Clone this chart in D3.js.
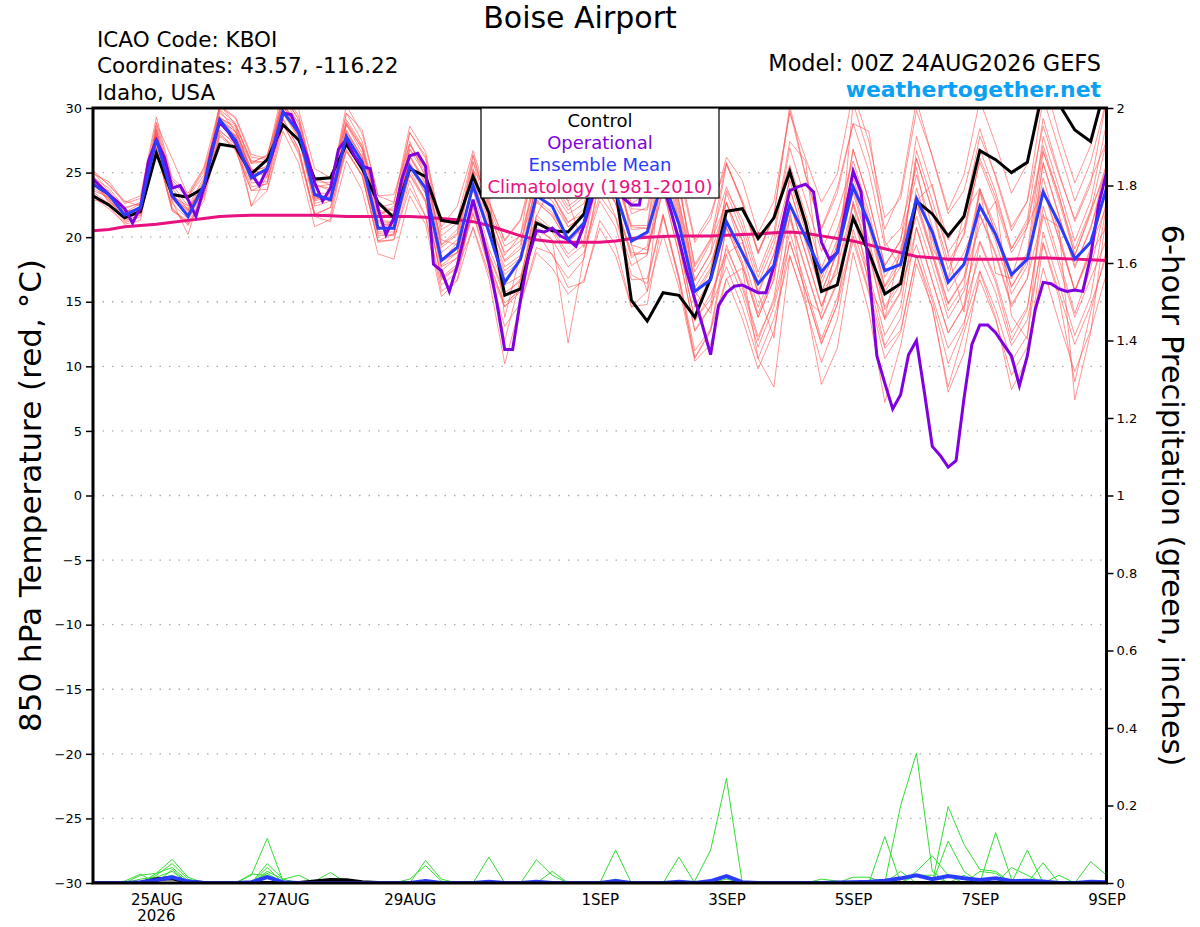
<!DOCTYPE html>
<html>
<head>
<meta charset="utf-8">
<script src="https://cdn.jsdelivr.net/npm/d3@7"></script>
<style>
  body { margin: 0; background: #fff; }
  svg text { font-family: "DejaVu Sans", "Liberation Sans", sans-serif; }
</style>
</head>
<body>
<div id="chart"></div>
<script>
// ---- data (6-hourly unless noted) ----
const startTime = "2026-08-24T00:00:00Z";
const endTime = "2026-09-09T00:00:00Z";
const tickDates = ["2026-08-25T00:00:00Z","2026-08-27T00:00:00Z","2026-08-29T00:00:00Z","2026-09-01T00:00:00Z",
                   "2026-09-03T00:00:00Z","2026-09-05T00:00:00Z","2026-09-07T00:00:00Z","2026-09-09T00:00:00Z"];
const tickLabels = ["25AUG","27AUG","29AUG","1SEP","3SEP","5SEP","7SEP","9SEP"];
const tempTicks = [-30,-25,-20,-15,-10,-5,0,5,10,15,20,25,30];
const precipTicks = [0,0.2,0.4,0.6,0.8,1,1.2,1.4,1.6,1.8,2];

const control = [23.2,22.5,21.5,22.0, 26.5,23.3,23.1,23.8, 27.2,27.0,24.9,26.0, 28.7,27.5,24.5,24.6,
  27.2,25.3,22.7,21.5, 25.3,24.7,21.3,21.1, 24.7,21.9,15.5,16.0, 21.1,20.5,20.4,21.8,
  26.5,23.8,15.1,13.5, 15.7,15.5,13.8,16.8, 22.0,22.2,19.9,21.5, 25.1,21.1,15.8,16.3,
  21.5,18.8,15.6,16.4, 22.8,21.8,20.1,21.6, 26.7,26.0,25.0,25.8, 31.5,30.3,28.3,27.4, 32.0];

// operational run is 3-hourly
const operational = [24.5,23.9,23.3,22.8,22.2,21.1,22.3,25.9,27.5,26.2,
  23.8,24.0,22.9,21.6,23.8,26.8,28.9,28.2,27.3,26.0,
  24.9,24.0,25.3,27.1,29.6,29.5,28.1,26.3,24.2,22.8,
  23.8,26.8,27.6,26.3,25.5,25.3,22.2,20.2,21.5,24.5,
  26.3,26.5,25.5,17.9,17.4,15.8,17.8,20.4,22.9,20.6,
  18.0,14.9,11.3,11.3,15.2,18.5,20.5,20.4,20.7,20.1,
  19.8,19.3,20.9,22.9,25.5,27.0,26.0,23.0,22.5,22.5,
  26.0,27.0,24.0,22.0,19.8,17.3,15.2,13.1,10.9,14.7,
  15.7,16.2,16.3,16.0,15.7,15.7,17.8,20.9,23.6,23.9,
  24.1,23.5,19.6,18.3,18.8,21.9,25.1,23.5,17.3,10.8,
  8.7,6.7,7.8,10.9,12.0,8.0,3.8,3.1,2.2,2.7,
  7.5,11.7,13.2,13.2,12.6,11.7,10.8,8.5,10.8,14.4,
  16.5,16.4,16.0,15.8,15.9,15.8,18.5,22.5,25.0];

const ensMean = [24.1,23.3,21.7,22.3, 27.6,23.2,21.6,24.0, 29.1,27.5,24.6,25.3, 29.7,28.1,23.3,22.9,
  27.8,25.8,20.7,20.7, 25.5,23.8,18.2,19.2, 24.0,20.4,16.5,18.3, 23.2,22.4,19.8,21.1,
  26.0,23.5,19.7,20.4, 24.5,21.0,15.8,16.7, 21.2,18.8,16.4,17.8, 22.5,20.0,17.3,18.8,
  23.9,21.1,17.4,17.9, 23.0,20.4,16.5,17.9, 22.4,20.2,17.1,18.3, 23.5,21.1,18.3,19.6, 23.8];

const climatology = [20.5,20.6,20.8,20.9, 21.0,21.15,21.3,21.45, 21.6,21.65,21.7,21.7, 21.7,21.7,21.7,21.65,
  21.6,21.6,21.6,21.6, 21.6,21.55,21.45,21.35, 21.2,20.9,20.5,20.1, 19.8,19.65,19.6,19.6,
  19.6,19.7,19.9,20.0, 20.05,20.1,20.1,20.1, 20.15,20.2,20.25,20.35, 20.4,20.3,20.1,19.9,
  19.7,19.4,19.1,18.8, 18.5,18.4,18.3,18.3, 18.3,18.3,18.3,18.35, 18.4,18.35,18.3,18.25, 18.2];

// ensemble members, one row per day (00Z,06Z,12Z,18Z)
const member01 = [24.6,23.8,22.3,22.6, 28.3,24.1,22.4,24.6, 29.8,28.2,25.7,26.4, 30.2,28.9,24.6,24.0,
  28.9,27.0,22.0,21.5, 26.8,25.4,19.4,20.6, 25.9,22.6,19.8,21.4, 26.3,25.1,22.8,24.0,
  29.4,27.6,24.5,23.2, 27.8,25.0,19.6,21.4, 26.2,24.4,20.3,22.8, 29.6,26.1,22.7,24.9,
  31.2,27.4,21.5,23.0, 29.8,26.3,22.1,24.8, 30.6,27.2,23.4,25.7, 32.5,28.0,24.2,27.1, 31.8];
const member02 = [23.5,22.6,21.2,21.8, 27.0,22.3,20.9,23.1, 28.1,26.7,23.6,24.2, 28.8,26.4,21.6,21.2,
  25.9,23.6,18.7,18.3, 23.2,21.0,15.4,16.6, 20.8,17.2,13.1,14.9, 19.2,18.7,16.1,16.5,
  21.3,19.4,14.6,15.8, 20.2,16.1,10.4,11.7, 16.8,17.6,10.6,8.4, 18.5,15.0,8.6,11.4,
  18.8,14.2,7.2,11.6, 17.9,14.6,8.0,11.0, 17.3,13.8,8.2,10.6, 19.5,15.3,8.8,14.2, 19.0];
const member03 = [25.0,24.1,22.6,23.0, 28.9,24.4,23.2,25.3, 29.2,28.6,24.8,25.1, 29.6,27.6,22.4,22.8,
  28.7,26.9,22.6,22.0, 27.4,24.6,19.8,19.4, 23.7,19.1,16.3,17.0, 21.6,24.2,22.8,19.2,
  23.2,21.5,17.1,16.4, 21.8,17.0,11.2,12.9, 19.4,16.1,12.0,15.3, 22.6,18.8,14.7,17.9,
  25.4,21.4,16.2,18.6, 26.1,22.0,17.5,20.3, 26.8,23.5,19.1,21.4, 29.2,25.0,21.2,24.1, 30.6];
const member04 = [23.1,22.2,21.1,21.6, 26.8,22.0,21.3,23.7, 29.3,28.1,25.3,24.6, 31.1,29.4,24.3,24.2,
  29.6,27.4,22.3,22.6, 28.1,26.3,20.6,21.3, 26.4,22.1,18.6,20.2, 24.3,23.4,20.8,21.6,
  25.1,23.8,19.4,19.0, 24.2,19.3,13.6,15.2, 19.1,16.4,12.3,15.0, 20.4,16.3,12.1,15.3,
  20.1,15.8,11.4,12.8, 18.6,15.1,10.2,13.1, 19.6,16.5,12.0,14.4, 22.4,18.3,14.1,17.6, 22.8];
const member05 = [24.2,23.0,21.4,21.9, 27.9,23.8,22.1,24.0, 30.2,29.3,26.4,26.1, 31.6,29.8,25.3,24.6,
  28.7,26.5,21.6,22.4, 25.6,23.4,17.7,18.4, 22.6,18.6,15.4,16.8, 20.6,19.8,11.8,18.5,
  24.6,22.6,18.4,19.3, 26.8,22.4,16.6,18.8, 25.6,22.9,18.9,21.7, 29.8,24.7,20.6,23.4,
  28.8,25.1,19.3,20.7, 25.4,19.2,16.8,21.8, 23.8,20.3,16.2,18.1, 24.6,20.3,15.8,19.2, 22.4];
const member06 = [24.8,23.2,21.7,22.3, 28.2,22.6,21.4,24.3, 28.3,27.1,22.4,23.6, 28.2,25.7,20.8,21.4,
  27.3,25.4,20.3,20.1, 26.3,24.2,18.1,19.6, 25.3,21.4,18.2,19.4, 25.6,24.3,22.4,23.3,
  28.6,26.8,22.6,23.4, 27.6,22.8,17.3,19.6, 22.7,18.8,14.6,17.4, 21.4,17.5,13.6,16.4,
  21.6,17.2,12.4,14.6, 22.4,18.6,14.3,16.2, 23.5,20.4,16.1,18.4, 26.6,23.3,18.6,22.0, 27.4];
const member07 = [25.2,24.0,22.8,22.4, 27.6,23.2,22.4,23.6, 28.8,27.6,24.4,25.3, 29.2,26.8,21.7,22.3,
  26.6,24.8,19.6,19.8, 24.4,21.6,16.3,17.3, 22.3,18.2,14.6,15.8, 20.4,18.6,16.8,18.3,
  24.4,21.6,17.8,18.6, 25.6,21.3,14.6,16.8, 23.6,21.4,17.3,20.4, 27.4,25.9,15.8,17.2,
  30.4,26.3,20.6,23.4, 30.6,26.2,21.8,23.6, 28.4,24.6,20.5,22.8, 28.6,24.8,21.4,24.4, 27.4];
const member08 = [23.2,22.4,21.0,21.3, 27.8,23.3,22.2,24.4, 30.3,28.7,25.8,26.3, 30.8,29.2,24.1,23.6,
  29.6,28.3,23.2,22.7, 28.6,26.6,20.8,22.4, 26.7,22.8,19.7,21.3, 25.4,23.6,21.8,22.6,
  26.6,24.6,20.6,20.7, 24.6,19.7,13.5,15.6, 18.6,15.6,11.5,14.6, 19.6,15.8,11.7,14.8,
  19.7,15.6,10.6,12.6, 18.6,14.5,8.4,12.6, 16.7,13.6,9.3,11.5, 17.6,13.4,9.6,12.8, 17.2];
const member09 = [24.0,23.6,22.1,21.8, 28.8,26.1,23.2,25.1, 28.9,27.8,25.2,24.8, 29.1,26.8,21.8,22.3,
  28.3,26.2,20.8,21.2, 27.2,25.3,19.4,20.3, 26.3,22.4,19.3,20.1, 27.2,25.8,23.6,24.7,
  30.6,28.7,24.6,25.2, 30.8,25.6,19.8,21.8, 25.7,22.6,18.7,21.6, 25.6,21.8,17.6,20.6,
  24.6,20.7,15.8,17.7, 21.6,17.8,13.7,15.8, 19.7,16.8,12.6,14.6, 21.6,20.8,7.4,12.6, 21.8];
const member10 = [24.1,22.8,21.9,22.1, 26.9,22.2,21.1,23.2, 29.2,27.9,24.8,25.2, 30.1,28.2,23.2,22.8,
  26.8,24.8,19.7,20.3, 24.8,22.7,16.8,17.7, 21.8,17.6,14.6,16.2, 21.7,20.6,18.7,19.8,
  25.8,23.7,19.6,20.2, 26.7,21.8,15.7,17.6, 22.6,19.7,15.6,18.7, 23.8,19.6,15.7,18.8,
  23.7,19.8,14.6,16.8, 22.8,24.1,18.7,14.2, 22.6,19.7,15.6,17.8, 25.8,21.7,17.6,20.8, 24.6];
const member11 = [23.6,23.1,22.0,22.2, 28.0,23.0,21.8,23.9, 29.0,28.2,25.0,25.5, 31.2,29.0,24.0,23.8,
  30.2,28.0,23.2,23.3, 27.2,25.0,19.2,20.2, 25.2,23.4,13.8,18.7, 22.7,21.7,19.6,20.7,
  24.7,22.6,18.6,18.8, 23.6,18.7,12.7,14.6, 17.7,14.6,10.6,13.7, 18.6,14.7,10.3,13.6,
  20.6,16.7,11.6,13.7, 20.8,16.6,12.6,14.7, 21.7,18.6,14.6,16.8, 25.7,21.6,17.8,20.6, 25.7];
const member12 = [24.2,22.9,21.3,21.7, 28.3,22.8,20.2,24.2, 27.8,26.8,23.6,23.7, 28.7,26.6,21.7,21.8,
  27.8,25.8,20.6,21.1, 25.2,22.8,16.7,17.6, 20.7,16.8,10.2,14.8, 18.8,17.6,15.6,16.7,
  20.7,18.6,14.6,14.8, 21.6,16.7,10.6,12.7, 18.7,19.6,15.7,12.2, 21.7,17.6,13.7,16.6,
  22.6,18.6,13.6,15.7, 20.7,16.6,12.6,14.6, 18.6,15.7,11.6,13.6, 19.6,15.7,11.7,14.7, 18.6];
const member13 = [24.9,24.3,22.7,23.2, 29.3,24.6,23.4,25.4, 30.1,29.2,26.2,26.0, 30.2,28.1,22.9,23.3,
  27.7,25.8,21.2,21.1, 26.3,24.4,18.2,18.8, 24.6,20.7,17.7,18.6, 24.2,23.3,21.2,21.8,
  27.6,25.8,21.8,22.3, 28.7,23.8,17.7,19.8, 25.8,22.7,18.8,21.7, 30.2,24.8,20.7,23.8,
  28.8,28.2,19.7,17.6, 26.7,22.8,18.8,20.7, 25.8,22.7,18.8,20.8, 26.7,22.8,18.6,21.8, 25.6];
const member14 = [22.9,22.6,21.4,22.0, 27.6,23.0,21.8,23.8, 28.8,27.8,25.1,25.0, 30.3,28.3,23.2,22.9,
  26.7,24.7,19.7,19.8, 23.8,21.6,15.8,16.7, 22.6,18.7,15.7,16.6, 22.8,21.6,19.7,20.8,
  26.7,24.7,20.8,20.7, 27.7,22.7,16.7,18.7, 22.7,19.8,15.8,18.7, 22.7,18.7,14.6,17.7,
  22.6,16.2,13.7,19.2, 22.8,18.6,14.8,16.8, 23.7,20.8,16.8,18.8, 27.8,23.8,19.7,22.8, 28.8];
const member15 = [24.3,23.1,22.2,22.7, 27.7,23.2,21.9,24.2, 29.9,28.8,25.9,25.8, 29.9,27.8,22.8,23.2,
  28.2,26.1,21.3,21.2, 26.8,24.8,18.8,19.8, 25.8,21.8,18.8,19.7, 23.8,22.8,20.8,21.7,
  24.8,22.7,18.8,18.7, 23.8,18.7,12.8,14.7, 20.7,17.8,13.8,16.7, 24.8,20.8,16.8,19.8,
  26.8,22.8,17.8,19.7, 27.8,23.8,19.8,21.8, 27.8,24.8,20.8,22.8, 30.8,26.8,22.8,25.8, 30.6];
const member16 = [24.0,23.2,21.6,22.4, 28.4,23.3,22.0,24.1, 28.2,27.3,24.2,24.3, 29.8,27.7,22.6,23.0,
  28.8,26.8,21.8,22.2, 25.8,23.8,17.8,18.8, 22.8,18.8,12.0,16.8, 20.8,19.8,17.7,18.8,
  22.8,20.8,16.7,16.8, 21.7,16.8,10.7,12.8, 16.8,13.7,9.8,12.7, 19.7,15.8,11.8,14.8,
  22.8,18.8,13.8,15.8, 23.8,19.8,15.8,17.8, 23.7,17.2,16.8,20.9, 23.7,19.8,15.8,18.7, 20.8];
const member17 = [24.1,23.3,22.1,21.9, 28.6,24.2,23.1,24.8, 29.3,28.4,25.2,25.4, 29.7,27.9,23.1,22.9,
  27.2,25.1,20.1,20.2, 26.2,24.1,18.1,18.8, 24.2,20.2,17.1,18.2, 24.1,23.2,21.1,22.2,
  28.2,26.1,22.2,22.1, 26.8,24.9,15.8,14.1, 20.8,17.8,13.8,16.8, 23.8,19.8,15.8,18.8,
  26.8,22.8,17.8,19.8, 24.8,20.8,16.8,18.8, 21.8,18.8,14.8,16.8, 21.8,17.8,13.8,16.8, 19.8];
const member18 = [24.4,22.7,21.8,22.0, 26.7,22.1,21.0,22.8, 27.9,27.0,23.9,24.1, 29.9,28.1,23.0,23.1,
  28.1,26.2,21.1,20.9, 24.9,22.9,16.9,17.9, 21.9,17.9,14.9,15.9, 22.9,21.9,19.9,20.9,
  26.9,24.9,20.9,20.9, 28.9,23.9,17.9,19.9, 23.9,20.9,16.9,19.9, 26.9,22.9,18.9,21.9,
  25.9,21.9,16.9,18.9, 22.9,18.9,14.9,16.9, 20.9,22.8,13.9,12.1, 23.9,19.9,15.9,18.9, 23.9];
const member19 = [25.1,23.5,21.9,22.6, 27.8,23.1,22.1,24.2, 28.7,27.9,22.4,24.8, 30.9,28.7,23.9,24.1,
  29.1,27.1,22.1,21.8, 28.1,26.1,20.1,21.1, 25.1,21.1,18.1,19.1, 25.1,24.1,22.1,23.1,
  29.1,27.1,23.1,23.1, 27.1,22.1,16.1,18.1, 21.1,18.1,14.1,17.1, 22.1,15.2,14.1,19.6,
  25.1,21.1,16.1,18.1, 26.1,22.1,18.1,20.1, 26.1,23.1,19.1,21.1, 27.1,23.1,19.1,22.1, 25.1];
const member20 = [23.8,23.0,21.8,22.2, 27.4,22.9,21.7,23.9, 29.6,28.7,25.7,25.9, 30.4,28.4,23.4,23.4,
  27.4,25.4,20.4,20.4, 25.4,23.4,17.4,18.4, 24.4,20.4,17.4,18.4, 21.4,20.4,18.4,19.4,
  25.4,27.6,19.4,15.8, 26.4,21.4,15.4,17.4, 23.4,20.4,16.4,19.4, 24.4,20.4,16.4,19.4,
  23.4,19.4,14.4,16.4, 19.4,15.4,11.4,13.4, 17.4,14.4,10.4,12.4, 20.4,16.4,12.4,15.4, 22.4];
const members = [member01,member02,member03,member04,member05,member06,member07,member08,member09,member10,
                 member11,member12,member13,member14,member15,member16,member17,member18,member19,member20];

// 6-hour precipitation, inches
const precipControl = [0,0,0,0, .01,.012,.003,0, 0,0,0,0, 0,0,.004,.008, .007,.002,0,0, 0,0,0,0, 0,0,0,0, 0,0,0,0, 0,0,0,0, 0,0,0,0, 0,0,0,0, 0,0,0,0, 0,0,0,0, 0,0,0,0, 0,0,0,0, 0,0,0,0, 0];
const precipMean = [0,0,0,.002, .008,.015,.004,0, 0,0,.002,.015, .002,0,0,0, 0,0,0,0, 0,.005,0,0, 0,.003,0,0, .003,0,0,0, 0,.005,0,0, 0,.003,0,.005, .018,.002,0,0, 0,0,0,.001, .002,.003,.006,.012, .02,.01,.018,.012, .008,.012,.005,.006, .004,0,0,.003, .002];
const precip01 = [0,0,0,.02, .025,.061,.015,0, 0,0,.02,.115, .005,0,0,0, 0,0,0,0, 0,0,0,0, 0,0,0,0, 0,0,0,0, 0,0,0,0, 0,0,.005,.085, .27,0,0,0, 0,0,0,0, 0,0,0,0, 0,0,0,0, 0,0,0,0, 0,0,0,0, 0];
const precip02 = [0,0,0,0, .02,.05,.01,0, 0,0,0,.05, .01,0,0,0, 0,0,0,0, 0,0,0,0, 0,0,0,0, 0,0,0,0, 0,0,0,0, 0,0,0,0, 0,0,0,0, 0,0,0,0, 0,0,0,.2, .335,.03,0,0, 0,0,0,0, 0,0,0,0, 0];
const precip03 = [0,0,0,0, .025,.04,.005,0, 0,0,0,.04, 0,0,0,0, 0,0,0,0, 0,0,0,0, 0,0,0,0, 0,0,0,0, 0,0,0,0, 0,.067,0,0, 0,0,0,0, 0,0,0,0, 0,0,0,0, 0,0,.197,.1, .035,.03,0,0, 0,0,0,0, 0];
const precip04 = [0,0,0,.01, .015,.03,0,0, 0,0,0,.03, .01,.02,0,0, 0,0,0,0, 0,.058,.01,0, 0,0,0,0, 0,0,0,0, 0,0,0,0, 0,0,0,0, 0,0,0,0, 0,0,0,0, 0,0,.12,0, 0,0,0,0, 0,0,0,0, 0,0,0,0, 0];
const precip05 = [0,0,0,0, .01,.02,0,0, 0,0,0,0, 0,0,0,0, 0,0,0,0, .01,.045,.005,0, 0,0,0,0, 0,0,0,0, 0,.085,0,0, 0,0,0,0, 0,0,0,0, 0,0,0,0, 0,0,0,0, 0,0,0,0, 0,.13,.01,0, 0,0,0,0, 0];
const precip06 = [0,0,.005,.023, 0,0,0,0, 0,0,0,0, 0,0,0,0, 0,0,0,0, 0,0,0,0, 0,.067,0,0, 0,0,0,0, 0,0,0,0, 0,0,0,0, 0,0,0,0, 0,0,0,0, 0,0,0,0, 0,0,.108,.03, 0,0,0,.085, 0,0,0,0, 0];
const precip07 = [0,0,0,0, 0,0,0,0, 0,0,.023,.02, 0,0,0,0, 0,0,0,0, 0,0,0,0, 0,0,0,0, .06,.02,0,0, 0,0,0,0, 0,0,0,0, 0,0,0,0, 0,0,0,0, 0,0,0,0, 0,0,0,0, 0,0,0,0, .052,0,0,0, 0];
const precip08 = [0,0,0,0, 0,0,0,0, 0,0,0,0, 0,0,.005,.027, 0,0,0,0, 0,0,0,0, 0,0,0,0, 0,.03,0,0, 0,0,0,0, 0,0,0,0, .02,0,0,0, 0,0,0,0, 0,0,0,0, 0,0,0,0, 0,0,0,0, 0,0,0,.055, .02];
const precip09 = [0,0,0,0, 0,0,0,0, 0,0,0,0, 0,0,0,0, 0,0,0,0, 0,0,0,0, 0,0,0,0, 0,0,0,0, 0,.01,0,0, 0,0,0,0, .01,0,0,0, 0,0,0,0, 0,0,0,0, .03,.07,.02,0, 0,0,0,0, 0,0,0,0, 0];
const precip10 = [0,0,0,0, 0,.035,0,0, 0,0,0,.025, 0,0,0,0, 0,0,0,0, 0,0,0,0, 0,0,0,0, 0,0,0,0, 0,0,0,0, 0,0,0,0, 0,0,0,0, 0,0,0,0, 0,0,0,0, 0,0,0,0, .03,.025,0,0, 0,.02,0,0, 0];
const precip11 = [0,0,0,0, 0,0,0,0, 0,0,0,0, 0,0,0,0, 0,0,0,0, 0,0,0,0, 0,0,0,0, 0,0,0,0, 0,0,0,0, 0,0,0,0, 0,0,0,0, 0,0,0,0, .015,.015,0,.03, 0,0,0,.02, 0,0,0,0, 0,0,0,0, 0];
const precip12 = [0,0,0,0, 0,0,0,0, 0,0,0,0, 0,0,0,0, 0,0,0,0, 0,0,0,0, 0,0,0,0, 0,0,0,0, 0,0,0,0, 0,0,0,0, 0,0,0,0, 0,0,.01,.005, 0,0,0,0, .02,.02,0,0, 0,0,.04,.02, 0,0,0,0, 0];
const precipMembers = [precip01,precip02,precip03,precip04,precip05,precip06,precip07,precip08,precip09,precip10,precip11,precip12];

// ---- chart ----
const W = 1200, H = 927;
const plot = {left: 93, right: 1106.5, top: 108, bottom: 883};
const colors = {member: "#ff5252", control: "#000000", oper: "#8000e0", mean: "#2a3cff",
                clim: "#e8117f", precip: "#33dd33", site: "#0aa0f5"};

const svg = d3.select("#chart").append("svg")
  .attr("width", W).attr("height", H);

const t0 = new Date(startTime).getTime();
const times6 = d3.range(control.length).map(i => new Date(t0 + i * 6 * 3600e3));
const times3 = d3.range(operational.length).map(i => new Date(t0 + i * 3 * 3600e3));

const x = d3.scaleUtc().domain([new Date(startTime), new Date(endTime)]).range([plot.left, plot.right]);
const yT = d3.scaleLinear().domain([-30, 30]).range([plot.bottom, plot.top]);
const yP = d3.scaleLinear().domain([0, 2]).range([plot.bottom, plot.top]);

svg.append("defs").append("clipPath").attr("id", "plotClip")
  .append("rect")
  .attr("x", plot.left).attr("y", plot.top)
  .attr("width", plot.right - plot.left).attr("height", plot.bottom - plot.top);

// dotted gridlines at temperature ticks
svg.append("g").selectAll("line")
  .data(tempTicks.filter(d => d > -30 && d < 30))
  .enter().append("line")
  .attr("x1", plot.left).attr("x2", plot.right)
  .attr("y1", d => yT(d)).attr("y2", d => yT(d))
  .attr("stroke", "#aaaaaa").attr("stroke-width", 1.3)
  .attr("stroke-dasharray", "1.5,8");

const lineT = times => d3.line().x((d, i) => x(times[i])).y(d => yT(d));
const lineP = d3.line().x((d, i) => x(times6[i])).y(d => yP(d));

const series = svg.append("g").attr("clip-path", "url(#plotClip)");

series.selectAll(".member").data(members).enter().append("path")
  .attr("class", "member")
  .attr("d", lineT(times6))
  .attr("fill", "none").attr("stroke", colors.member)
  .attr("stroke-width", 0.75).attr("stroke-opacity", 0.8);

series.selectAll(".pmember").data(precipMembers).enter().append("path")
  .attr("class", "pmember")
  .attr("d", lineP)
  .attr("fill", "none").attr("stroke", colors.precip).attr("stroke-width", 1);

series.append("path").datum(climatology)
  .attr("d", lineT(times6))
  .attr("fill", "none").attr("stroke", colors.clim).attr("stroke-width", 3);

series.append("path").datum(control)
  .attr("d", lineT(times6))
  .attr("fill", "none").attr("stroke", colors.control).attr("stroke-width", 3);

series.append("path").datum(operational)
  .attr("d", lineT(times3))
  .attr("fill", "none").attr("stroke", colors.oper).attr("stroke-width", 3);

series.append("path").datum(ensMean)
  .attr("d", lineT(times6))
  .attr("fill", "none").attr("stroke", colors.mean).attr("stroke-width", 3);

series.append("path").datum(precipControl)
  .attr("d", lineP)
  .attr("fill", "none").attr("stroke", colors.control).attr("stroke-width", 4);

series.append("path").datum(precipMean)
  .attr("d", lineP)
  .attr("fill", "none").attr("stroke", colors.mean).attr("stroke-width", 4);

// axes
const leftAxis = svg.append("g")
  .attr("transform", "translate(" + plot.left + ",0)")
  .call(d3.axisLeft(yT).tickValues(tempTicks).tickSize(7).tickPadding(4));
const rightAxis = svg.append("g")
  .attr("transform", "translate(" + plot.right + ",0)")
  .call(d3.axisRight(yP).tickValues(precipTicks).tickFormat(d3.format("~g")).tickSize(7).tickPadding(3));
const bottomAxis = svg.append("g")
  .attr("transform", "translate(0," + plot.bottom + ")")
  .call(d3.axisBottom(x).tickValues(tickDates.map(d => new Date(d)))
    .tickFormat((d, i) => tickLabels[i]).tickSize(0).tickPadding(11));

[leftAxis, rightAxis, bottomAxis].forEach(g => {
  g.select(".domain").remove();
  g.selectAll(".tick line").attr("stroke", "#000").attr("stroke-width", 1.5);
  g.selectAll("text").attr("fill", "#000")
    .style("font-family", '"DejaVu Sans", sans-serif');
});
leftAxis.selectAll("text").style("font-size", "13px");
rightAxis.selectAll("text").style("font-size", "13px");
bottomAxis.selectAll("text").style("font-size", "15px");

svg.append("text")
  .attr("x", x(new Date(tickDates[0]))).attr("y", 921)
  .attr("text-anchor", "middle").style("font-size", "15px")
  .text("2026");

// frame
svg.append("rect")
  .attr("x", plot.left).attr("y", plot.top)
  .attr("width", plot.right - plot.left).attr("height", plot.bottom - plot.top)
  .attr("fill", "none").attr("stroke", "#000").attr("stroke-width", 3);

// legend
const legend = svg.append("g");
legend.append("rect")
  .attr("x", 481).attr("y", plot.top)
  .attr("width", 238).attr("height", 90)
  .attr("fill", "#fff").attr("stroke", "#000").attr("stroke-width", 1.2);
const legendItems = [
  {label: "Control", color: colors.control},
  {label: "Operational", color: colors.oper},
  {label: "Ensemble Mean", color: colors.mean},
  {label: "Climatology (1981-2010)", color: colors.clim}
];
legend.selectAll("text").data(legendItems).enter().append("text")
  .attr("x", 600).attr("y", (d, i) => 127.3 + i * 21.8)
  .attr("text-anchor", "middle").attr("fill", d => d.color)
  .style("font-size", "18px")
  .text(d => d.label);

// header texts
svg.append("text").attr("x", 580).attr("y", 28)
  .attr("text-anchor", "middle").style("font-size", "30px").text("Boise Airport");

const info = ["ICAO Code: KBOI", "Coordinates: 43.57, -116.22", "Idaho, USA"];
svg.selectAll(".info").data(info).enter().append("text")
  .attr("class", "info")
  .attr("x", 97).attr("y", (d, i) => 46.7 + i * 26.7)
  .style("font-size", "21.5px").text(d => d);

svg.append("text").attr("x", 1101).attr("y", 71)
  .attr("text-anchor", "end").style("font-size", "22.4px")
  .text("Model: 00Z 24AUG2026 GEFS");
svg.append("text").attr("x", 1101).attr("y", 97)
  .attr("text-anchor", "end").attr("fill", colors.site)
  .style("font-size", "21.9px").style("font-weight", "bold")
  .text("weathertogether.net");

// axis titles
svg.append("text")
  .attr("transform", "translate(41," + ((plot.top + plot.bottom) / 2) + ") rotate(-90)")
  .attr("text-anchor", "middle").style("font-size", "31px")
  .text("850 hPa Temperature (red, °C)");
svg.append("text")
  .attr("transform", "translate(1162," + ((plot.top + plot.bottom) / 2) + ") rotate(90)")
  .attr("text-anchor", "middle").style("font-size", "30.6px")
  .text("6-hour Precipitation (green, inches)");
</script>
</body>
</html>
